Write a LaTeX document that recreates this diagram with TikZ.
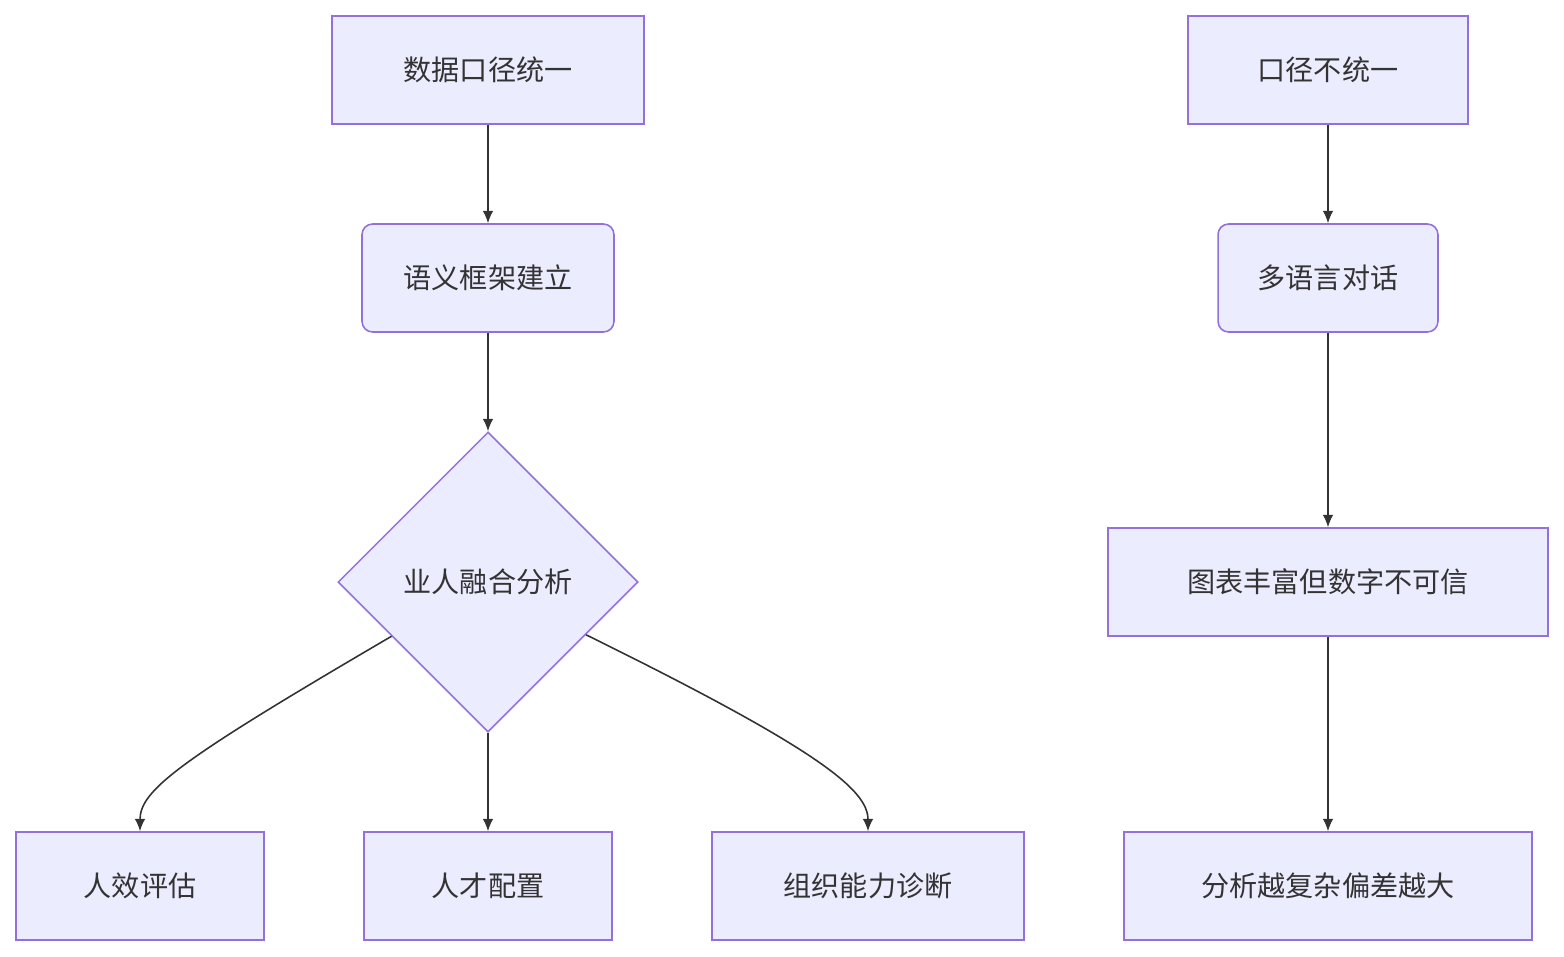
\documentclass[tikz,border=0pt]{standalone}
\usepackage{fontspec}
\newfontfamily\cjk{Noto Sans CJK SC}
\usetikzlibrary{shapes.geometric,calc,arrows.meta}
\definecolor{boxfill}{HTML}{ECECFF}
\definecolor{boxline}{HTML}{9370DB}
\definecolor{ink}{HTML}{333333}
\tikzset{
  box/.style = {draw = boxline, fill = boxfill, line width = 0.9pt, text = ink,
    minimum height = 2.16cm, inner sep = 0pt, font = \cjk\fontsize{16}{18}\selectfont},
  rbox/.style = {box, rounded corners = 6pt},
  choice/.style = {box, diamond, aspect = 1, minimum width = 6cm, minimum height = 6cm},
  link/.style = {draw = ink, line width = 0.9pt, -{Latex[length = 7pt, width = 6pt]}}
}
\begin{document}
\begin{tikzpicture}[x = 0.02cm, y = -0.02cm]
    \useasboundingbox (0,0) rectangle (1564, 956);

    \node[box, minimum width = 6.24cm] (unified) at (488, 70) {数据口径统一};
    \node[rbox, minimum width = 5.04cm] (semantic) at (488, 278) {语义框架建立};
    \node[choice] (fusion) at (488, 582) {业人融合分析};
    \node[box, minimum width = 4.96cm] (efficiency) at (140, 886) {人效评估};
    \node[box, minimum width = 4.96cm] (talent) at (488, 886) {人才配置};
    \node[box, minimum width = 6.24cm] (capability) at (868, 886) {组织能力诊断};

    \node[box, minimum width = 5.6cm] (disunited) at (1328, 70) {口径不统一};
    \node[rbox, minimum width = 4.4cm] (dialogue) at (1328, 278) {多语言对话};
    \node[box, minimum width = 8.8cm] (charts) at (1328, 582) {图表丰富但数字不可信};
    \node[box, minimum width = 8.16cm] (bias) at (1328, 886) {分析越复杂偏差越大};

    \coordinate (fusionL) at ($(fusion.west)!0.36!(fusion.south)$);
    \coordinate (fusionR) at ($(fusion.east)!0.35!(fusion.south)$);

    \draw[link] (unified) -- (semantic);
    \draw[link] (semantic) -- (fusion);
    \draw[link] (fusionL) .. controls (180, 760) and (140, 790) .. (efficiency.north);
    \draw[link] (fusion) -- (talent);
    \draw[link] (fusionR) .. controls (820, 750) and (868, 790) .. (capability.north);

    \draw[link] (disunited) -- (dialogue);
    \draw[link] (dialogue) -- (charts);
    \draw[link] (charts) -- (bias);
\end{tikzpicture}
\end{document}
